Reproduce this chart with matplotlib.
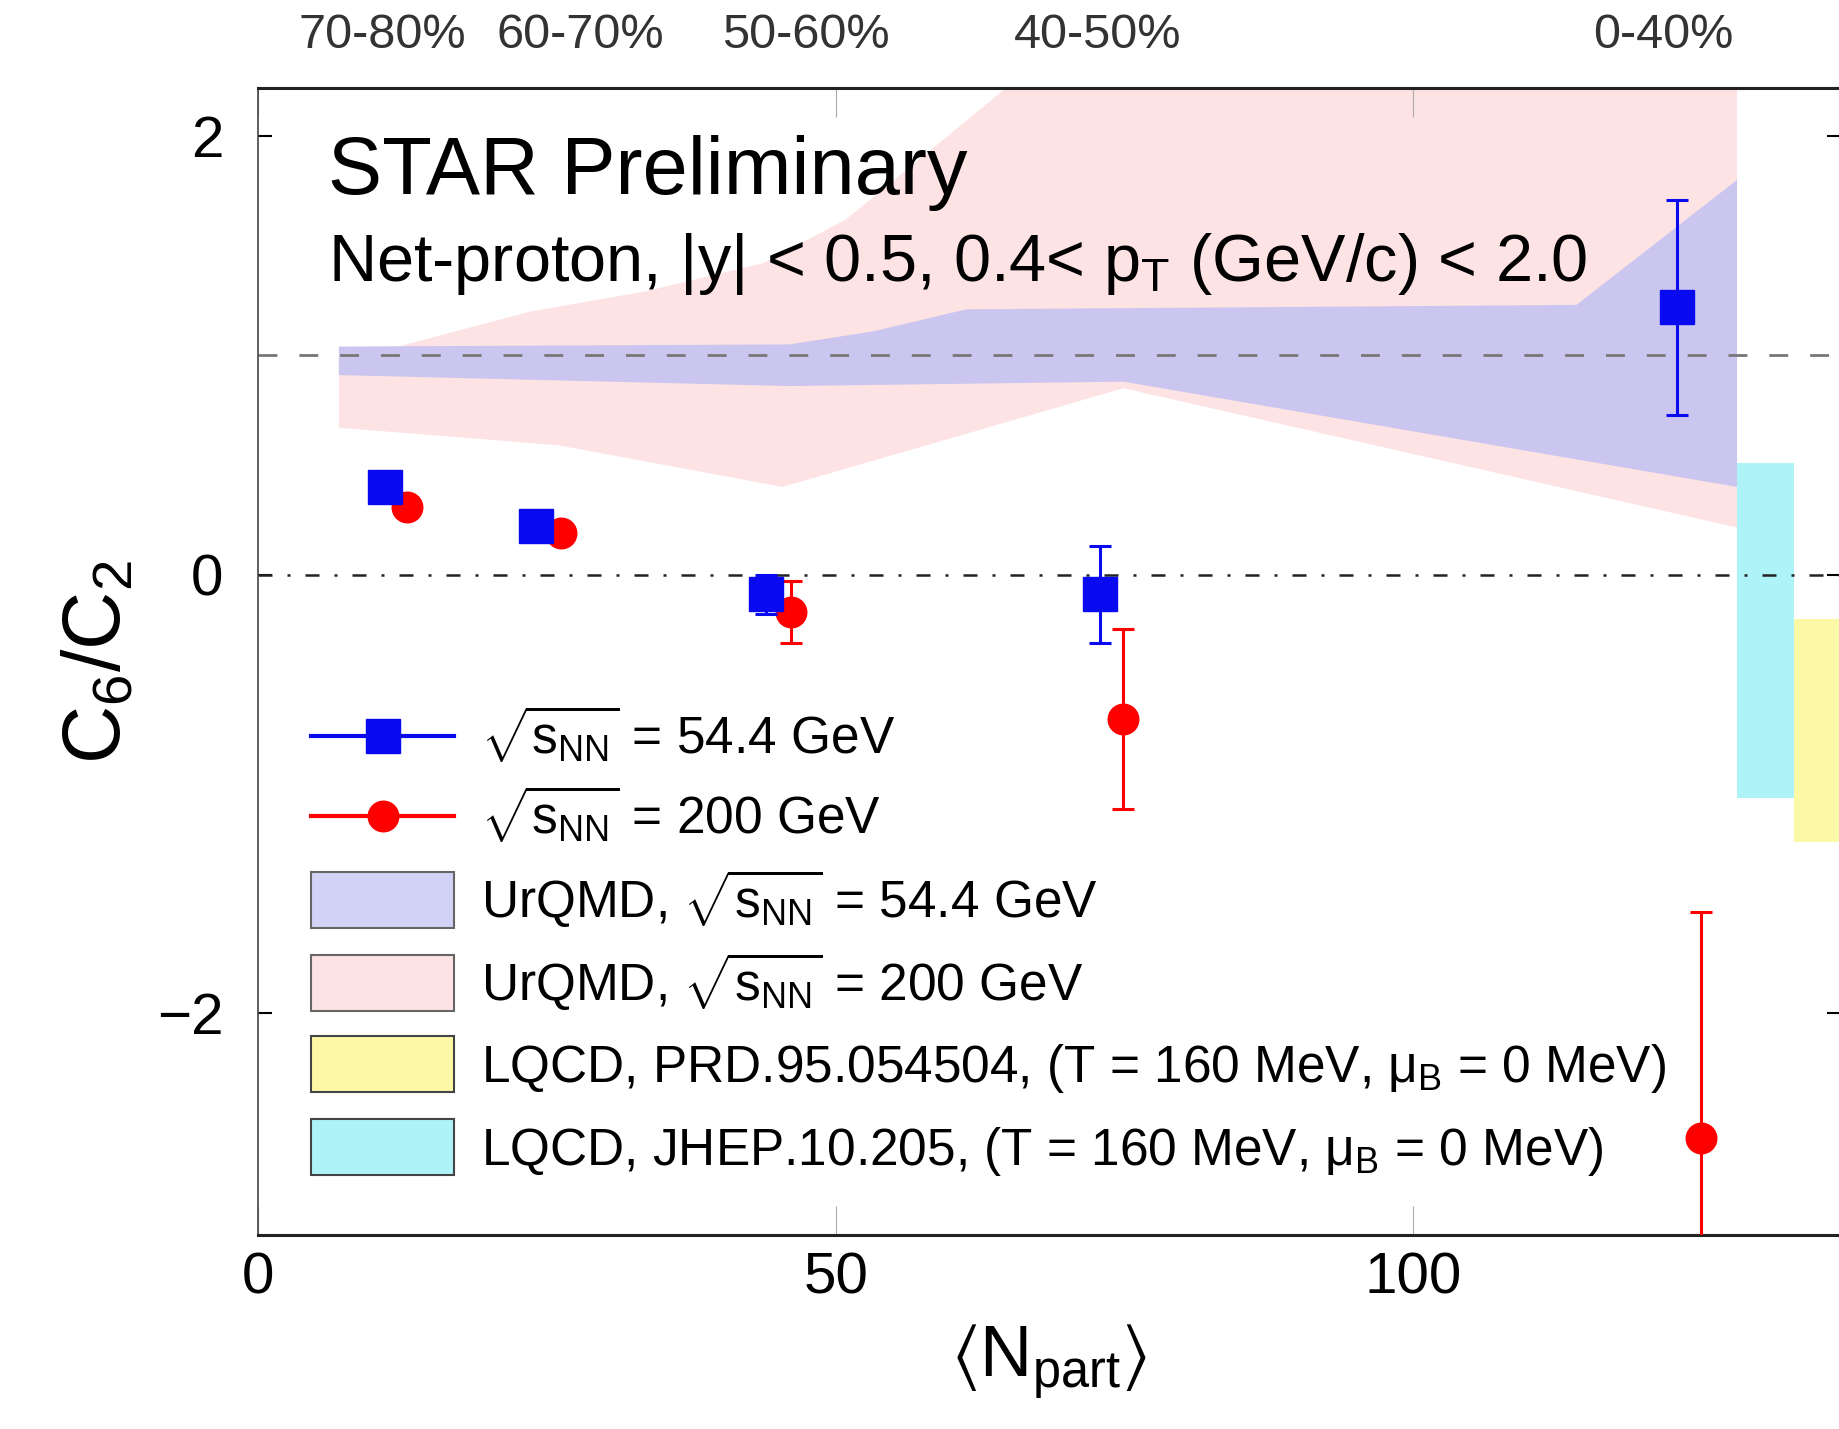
"""C6/C2 of net-proton vs <Npart> for Au+Au at 54.4 and 200 GeV (STAR Preliminary),
compared to UrQMD bands and lattice QCD expectations."""

import matplotlib.pyplot as plt
import matplotlib.transforms as mtransforms
import numpy as np
from matplotlib.patches import Rectangle

plt.rcParams["font.family"] = "Liberation Sans"
plt.rcParams["mathtext.fontset"] = "custom"
plt.rcParams["mathtext.rm"] = "Liberation Sans"
plt.rcParams["mathtext.it"] = "Liberation Sans:italic"
plt.rcParams["mathtext.default"] = "regular"

# data points
npart_544 = [11.0, 24.1, 44.0, 72.9, 122.8]
c6c2_544 = [0.40, 0.22, -0.09, -0.09, 1.22]
err_544 = [0.04, 0.04, 0.09, 0.22, 0.49]

npart_200 = [12.9, 26.2, 46.1, 74.9, 124.9]
c6c2_200 = [0.31, 0.19, -0.17, -0.66, -2.57]
err_200 = [0.04, 0.04, 0.14, 0.41, 1.03]

# UrQMD bands (upper and lower edges)
urqmd200_up_x = [7.0, 12.1, 23.6, 33.4, 43.7, 50.9, 65.0, 75.0, 128.0]
urqmd200_up_y = [1.02, 1.04, 1.20, 1.29, 1.42, 1.62, 2.23, 2.65, 3.50]
urqmd200_lo_x = [7.0, 26.0, 45.4, 74.9, 128.0]
urqmd200_lo_y = [0.67, 0.59, 0.40, 0.85, 0.215]

urqmd544_up_x = [7.0, 46.0, 53.3, 61.3, 114.1, 128.0]
urqmd544_up_y = [1.04, 1.05, 1.11, 1.21, 1.23, 1.80]
urqmd544_lo_x = [7.0, 46.0, 74.9, 128.0]
urqmd544_lo_y = [0.91, 0.86, 0.88, 0.40]

# lattice QCD boxes
jhep_x = [128.0, 132.9]
jhep_lo, jhep_hi = -1.02, 0.51
prd_x = [132.9, 137.5]
prd_lo, prd_hi = -1.22, -0.20

cent_labels = ["70-80%", "60-70%", "50-60%", "40-50%", "0-40%"]
cent_pos = [10.8, 27.9, 47.4, 72.7, 121.6]

C_BLUE = "#0a0af0"
C_RED = "#ff0000"
C_PINK = "#fde3e3"
C_PURPLE = "#cbc6ef"
C_CYAN = "#aef3f7"
C_YELLOW = "#fbf9a6"

fig = plt.figure(figsize=(18.39, 14.29), dpi=100)
ax = fig.add_axes([0.1403, 0.1358, 0.8608, 0.8026])

# model bands
ax.fill(
    np.concatenate([urqmd200_up_x, urqmd200_lo_x[::-1]]),
    np.concatenate([urqmd200_up_y, urqmd200_lo_y[::-1]]),
    color=C_PINK, lw=0, zorder=1,
)
ax.fill(
    np.concatenate([urqmd544_up_x, urqmd544_lo_x[::-1]]),
    np.concatenate([urqmd544_up_y, urqmd544_lo_y[::-1]]),
    color=C_PURPLE, lw=0, zorder=1.1,
)
ax.fill_between(jhep_x, jhep_lo, jhep_hi, color=C_CYAN, lw=0, zorder=1)
ax.fill_between(prd_x, prd_lo, prd_hi, color=C_YELLOW, lw=0, zorder=1)

# reference lines
ax.axhline(1, color="#777777", lw=2, dashes=(6.8, 7.9), zorder=2)
ax.axhline(0, color="#222222", lw=1.8, dashes=(5.6, 6, 1.2, 6), zorder=2)

# measurements
ax.errorbar(npart_200, c6c2_200, yerr=err_200, fmt="o", color=C_RED,
            markersize=22, elinewidth=2.2, capsize=8, capthick=2.2, zorder=3)
ax.errorbar(npart_544, c6c2_544, yerr=err_544, fmt="s", color=C_BLUE,
            markersize=24, elinewidth=2.2, capsize=8, capthick=2.2, zorder=4)

ax.set_xlim(0, 137.0)
ax.set_ylim(-3.011, 2.219)
ax.set_xticks([0, 50, 100])
ax.set_yticks([-2, 0, 2])
ax.tick_params(axis="x", direction="in", length=21, width=0.8, color="#aaaaaa",
               top=True, labelsize=42, pad=12)
ax.tick_params(axis="y", direction="in", length=10, width=1.5, color="black",
               right=True, labelsize=42, pad=25)

for side in ["top", "bottom"]:
    ax.spines[side].set_linewidth(2.2)
    ax.spines[side].set_color("#222222")
ax.spines["left"].set_linewidth(1.2)
ax.spines["left"].set_color("#444444")

ax.set_xlabel(r"$\langle N_{part}\rangle$", fontsize=52, labelpad=12)
ax.set_ylabel(r"$C_{6}/C_{2}$", fontsize=58, labelpad=14)

ax.text(0.044, 0.908, "STAR Preliminary", transform=ax.transAxes,
        fontsize=58.5, va="baseline", ha="left", zorder=5)
ax.text(0.044, 0.832, r"Net-proton, |y| < 0.5, 0.4< p$_{T}$ (GeV/c) < 2.0",
        transform=ax.transAxes, fontsize=48, va="baseline", ha="left", zorder=5)

# centrality classes above the frame
trans = mtransforms.blended_transform_factory(ax.transData, ax.transAxes)
for label, pos in zip(cent_labels, cent_pos):
    ax.text(pos, 1.046, label, transform=trans, ha="center", va="center",
            fontsize=35, color="#333333")

# legend, laid out row by row in axes fractions
leg_rows = [0.435, 0.365, 0.292, 0.220, 0.149, 0.0767]
leg_x0, leg_x1, leg_text_x = 0.0335, 0.1238, 0.1409
box_h = 0.0488
labels = [
    r"$\sqrt{s_{NN}}$ = 54.4 GeV",
    r"$\sqrt{s_{NN}}$ = 200 GeV",
    r"UrQMD, $\sqrt{s_{NN}}$ = 54.4 GeV",
    r"UrQMD, $\sqrt{s_{NN}}$ = 200 GeV",
    r"LQCD, PRD.95.054504, (T = 160 MeV, $\mu_{B}$ = 0 MeV)",
    r"LQCD, JHEP.10.205, (T = 160 MeV, $\mu_{B}$ = 0 MeV)",
]
markers = [(C_BLUE, "s", 24), (C_RED, "o", 22)]
for (color, marker, size), y in zip(markers, leg_rows[:2]):
    ax.plot([leg_x0, leg_x1], [y, y], color=color, lw=3,
            transform=ax.transAxes, clip_on=False, zorder=5)
    ax.plot([(leg_x0 + leg_x1) / 2], [y], color=color, marker=marker,
            markersize=size, transform=ax.transAxes, clip_on=False, zorder=5)
box_styles = [("#d2d2f6", "#666666"), (C_PINK, "#666666"),
              (C_YELLOW, "#444444"), (C_CYAN, "#444444")]
for (face, edge), y in zip(box_styles, leg_rows[2:]):
    ax.add_patch(Rectangle((leg_x0, y - box_h / 2), leg_x1 - leg_x0, box_h,
                           facecolor=face, edgecolor=edge, lw=1.5,
                           transform=ax.transAxes, zorder=5))
for label, y in zip(labels, leg_rows):
    ax.text(leg_text_x, y - 0.016, label, transform=ax.transAxes,
            fontsize=37, va="baseline", ha="left", zorder=5)

fig.savefig("out.png", dpi=100)
